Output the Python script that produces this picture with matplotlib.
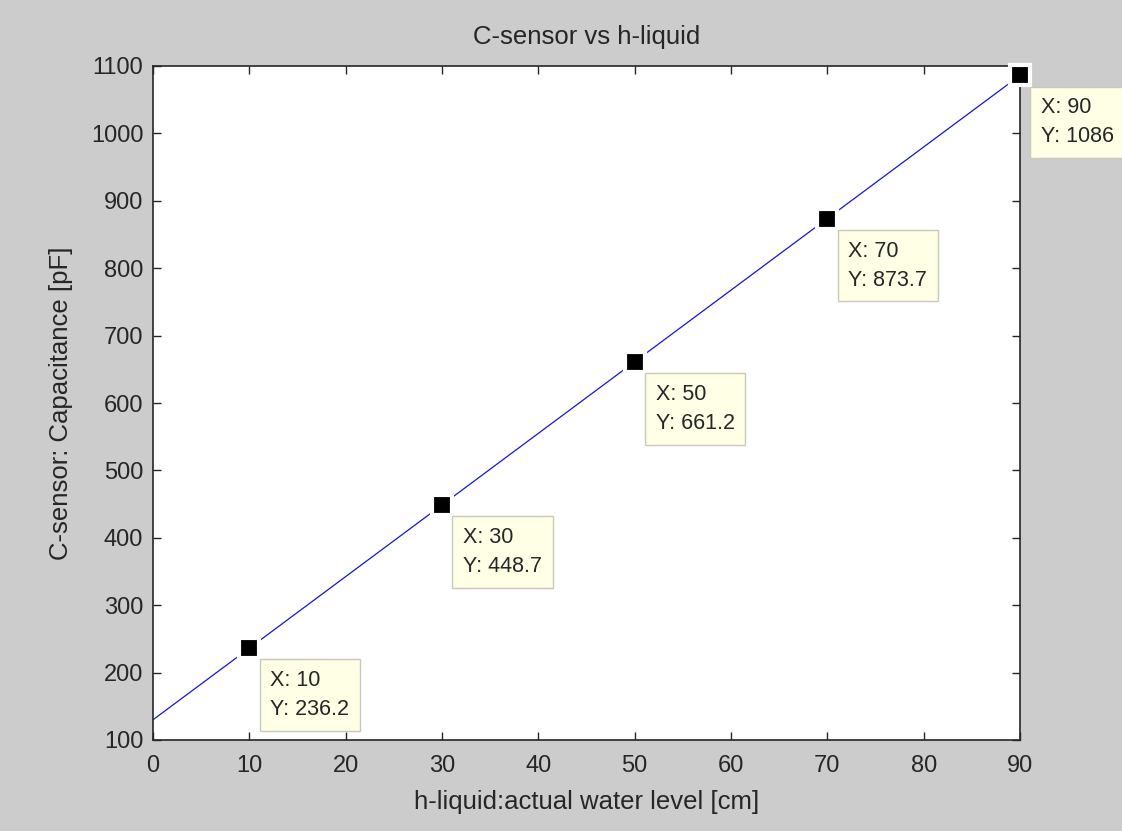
import matplotlib
matplotlib.use("Agg")
import matplotlib.pyplot as plt

# Data
h_line = [0, 10, 30, 50, 70, 90]
c_line = [130.0, 236.2, 448.7, 661.2, 873.7, 1086.0]
tip_x = [10, 30, 50, 70, 90]
tip_y = [236.2, 448.7, 661.2, 873.7, 1086.0]
tip_labels = ["236.2", "448.7", "661.2", "873.7", "1086"]
xticks = list(range(0, 91, 10))
yticks = list(range(100, 1101, 100))

plt.rcParams['font.family'] = ['Liberation Sans', 'DejaVu Sans']
txt = '#262626'

fig = plt.figure(figsize=(11.22, 8.31), dpi=100, facecolor='#cccccc')
ax = fig.add_axes([153/1122, 1 - 740/831, 867/1122, 674/831])
ax.set_facecolor('white')

ax.plot(h_line, c_line, color='#1515d8', lw=0.9, zorder=2)
ax.plot(tip_x, tip_y, linestyle='none', marker='s', markersize=14,
        markerfacecolor='black', markeredgecolor='white', markeredgewidth=3,
        zorder=5, clip_on=False)

for x, y, yl in zip(tip_x, tip_y, tip_labels):
    ax.annotate(f"X: {x}\nY: {yl}", xy=(x, y), xytext=(21, -22),
                textcoords='offset pixels', ha='left', va='top',
                fontsize=15.5, color=txt, linespacing=1.5,
                bbox=dict(boxstyle='square,pad=0.5', facecolor='#ffffe6',
                          edgecolor='#c8c8bc', linewidth=1.0),
                zorder=6, annotation_clip=False)

ax.set_xlim(0, 90)
ax.set_ylim(100, 1100)
ax.set_xticks(xticks)
ax.set_yticks(yticks)
ax.tick_params(direction='in', length=6, width=1, top=True, right=True,
               labelsize=17, colors=txt, pad=7)
ax.tick_params(axis='x', pad=10.5)
for s in ax.spines.values():
    s.set_linewidth(1.2)
    s.set_color(txt)

ax.set_title("C-sensor vs h-liquid", fontsize=18.5, color=txt, pad=16)
ax.set_xlabel("h-liquid:actual water level [cm]", fontsize=18.5, color=txt, labelpad=10)
ax.set_ylabel("C-sensor: Capacitance [pF]", fontsize=18.5, color=txt, labelpad=13)

fig.savefig("out.png", dpi=100, facecolor=fig.get_facecolor())
